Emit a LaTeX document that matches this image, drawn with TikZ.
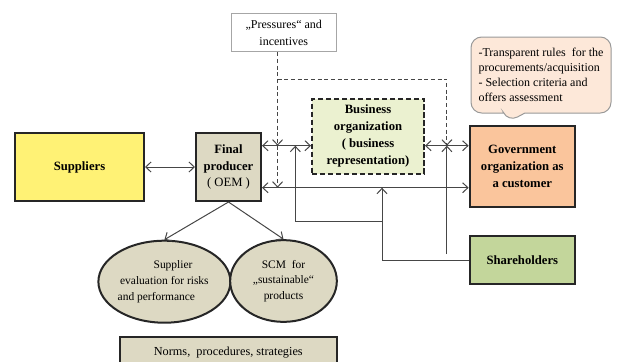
\documentclass[tikz,border=0pt]{standalone}
\usepackage{fontspec}
\setmainfont{Liberation Serif}
\usetikzlibrary{positioning, arrows.meta, shapes.geometric, shapes.callouts}

\definecolor{supyellow}{RGB}{255,242,117}
\definecolor{tanfill}{RGB}{221,217,195}
\definecolor{bizgreen}{RGB}{235,241,208}
\definecolor{govorange}{RGB}{250,197,156}
\definecolor{sharegreen}{RGB}{195,214,155}
\definecolor{notefill}{RGB}{253,232,217}
\definecolor{linegray}{RGB}{70,70,70}

\begin{document}
\begin{tikzpicture}
    [
        x=0.75pt, y=-0.75pt, inner sep=0pt,
        >={Straight Barb[length=4pt, width=7.5pt]},
        box_node/.style={rectangle, draw=black!85, line width=1.5pt, align=center, font=\fontsize{9.5}{12.7}\selectfont\bfseries},
        oval_node/.style={ellipse, draw=black!85, line width=1.5pt, fill=tanfill, align=center, font=\fontsize{8.6}{11.8}\selectfont},
        link/.style={line width=0.75pt, draw=linegray},
        dash_link/.style={link, dash pattern=on 3pt off 2pt},
    ]
        \useasboundingbox (0,0) rectangle (617,361);
        \node[box_node, fill=supyellow, minimum width=96.75pt, minimum height=51pt] (sup) at (79.5,167) {Suppliers} ;
        \node[box_node, fill=tanfill, minimum width=48.75pt, minimum height=51pt] (fp) at (228.5,167) {Final\\producer\\{\mdseries( OEM )}} ;
        \node[box_node, fill=bizgreen, dash pattern=on 4pt off 2pt, minimum width=84pt, minimum height=56.25pt] (biz) at (368,136) {Business\\organization\\( business\\representation)} ;
        \node[box_node, fill=govorange, minimum width=79pt, minimum height=61pt] (gov) at (522.3,166.7) {Government\\organization as\\a customer} ;
        \node[box_node, fill=sharegreen, minimum width=79pt, minimum height=36pt] (sh) [below = 20pt of gov] {Shareholders} ;
        \node[rectangle, draw=black!35, line width=0.75pt, fill=white, minimum width=79.2pt, minimum height=28.6pt, align=center, font=\fontsize{9}{12.5}\selectfont] (pr) at (283.8,32.6) {„Pressures“ and\\incentives} ;
        \node[rectangle callout, rounded corners=8pt, draw=black!40, line width=0.75pt, fill=notefill, minimum width=105pt, minimum height=57pt, callout absolute pointer={(508,122)}, callout pointer width=16pt, align=left, font=\fontsize{9}{11.3}\selectfont] (note) at (541,75) {-Transparent rules\ \ for the\\procurements/acquisition\\- Selection criteria and\\offers assessment} ;
        \node[oval_node, minimum width=92pt, minimum height=61.5pt] (eval) at (164.4,281.7) {\hspace*{13pt}Supplier\\evaluation for risks\\and performance\hspace*{12pt}} ;
        \node[oval_node, minimum width=80pt, minimum height=61.3pt] (scm) at (283.5,281) {SCM\ \ for\\„sustainable“\\products} ;
        \node[rectangle, draw=black!85, line width=1.5pt, fill=tanfill, minimum width=162.5pt, minimum height=24pt, anchor=north, font=\fontsize{9.2}{12}\selectfont] (norms) at (228.3,336) {Norms,\ \ procedures, strategies} ;
        \coordinate (row1) at (0,145.7) ;
        \coordinate (row2) at (0,187.7) ;
        \coordinate (dashx) at (277.6,79) ;
        \coordinate (loopl) at (295.3,221) ;
        \coordinate (loopr) at (382,221) ;
        \coordinate (freeend) at (446.9,254) ;
        \draw[link, <->] (sup) -- (fp) ;
        \draw[link, <->] (fp.east |- row1) -- (biz.west |- row1) ;
        \draw[link, <->] (biz.east |- row1) -- (gov.west |- row1) ;
        \draw[link, <->] (fp.east |- row2) -- (gov.west |- row2) ;
        \draw[link, ->] (fp.south) -- (eval.north) ;
        \draw[link, ->] (fp.south) -- (scm.north) ;
        \draw[dash_link, ->] (pr.south -| dashx) -- (dashx |- row1) ;
        \draw[dash_link, ->] (dashx |- row1) -- (dashx |- row2) ;
        \draw[dash_link, ->] (dashx) -- (freeend |- dashx) -- (freeend |- row1) ;
        \draw[link, ->] (sh.west) -- (loopr |- sh.west) -- (loopr |- row2) ;
        \draw[link, ->] (loopr) -- (loopl) -- (loopl |- row1) ;
        \draw[link, ->] (freeend) -- (freeend |- row1) ;
    \end{tikzpicture}
\end{document}
